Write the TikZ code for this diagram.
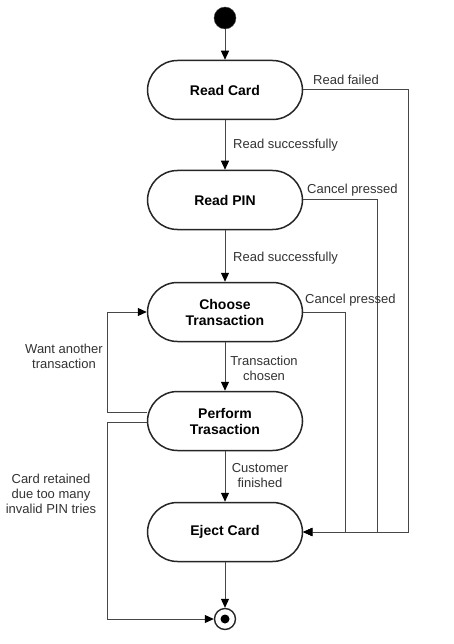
\documentclass[tikz,border=0pt]{standalone}
\usepackage{fontspec}
\setmainfont{Liberation Sans}
\usetikzlibrary{arrows.meta}
\begin{document}
\begin{tikzpicture}[x=1pt,y=-1pt,
  state/.style={draw=black!85, line width=1.5pt, rounded corners=30pt, minimum width=155pt, minimum height=59pt, inner sep=0pt, align=center, font=\fontsize{14}{16}\selectfont\bfseries, fill=white},
  conn/.style={draw=black!72, line width=1pt},
  arr/.style={conn, -{Triangle[length=9pt,width=8pt,color=black]}},
  lbl/.style={inner sep=0pt, text=black!80, font=\fontsize{13}{15}\selectfont, align=center},
]
\useasboundingbox (0,0) rectangle (454,644);
\fill[white] (0,0) rectangle (454,644);
% states
\node[circle, fill=black, draw=black!70, minimum size=22pt, inner sep=0pt] (init) at (225,18) {};
\node[state] (rc) at (225,90) {Read Card};
\node[state] (rp) at (225,200) {Read PIN};
\node[state] (ct) at (225,312) {Choose\\Transaction};
\node[state] (pt) at (225,421) {Perform\\Trasaction};
\node[state] (ej) at (225,532) {Eject Card};
\node[circle, draw=black!85, line width=1.4pt, fill=white, minimum size=21pt, inner sep=0pt] (fin) at (225,619) {};
\fill[black] (fin.center) circle (4.5pt);
% corner coordinates
\coordinate (c1) at (408,90);
\coordinate (c2) at (377,200);
\coordinate (c3) at (345,312);
\coordinate (wa) at (107,312);
\coordinate (cr) at (107,619);
% main flow
\draw[arr] (init) -- (rc);
\draw[arr] (rc) -- (rp);
\draw[arr] (rp) -- (ct);
\draw[arr] (ct) -- (pt);
\draw[arr] (pt) -- (ej);
\draw[arr] (ej) -- (fin);
% right side
\draw[arr] (rc.east) -- (c1) |- (ej.east);
\draw[arr] (rp.east) -- (c2) |- (ej.east);
\draw[arr] (ct.east) -- (c3) |- (ej.east);
% left side
\draw[arr] ([yshift=9pt]pt.west) -| (wa) -- (ct.west);
\draw[arr] ([yshift=-1pt]pt.west) -| (cr) -- (fin.west);
% labels
\node[lbl, anchor=west] (l1) at (313,80) {Read failed};
\node[lbl, anchor=west] (l2) at (233,145) {Read successfully};
\node[lbl, anchor=west] (l3) at (307,190) {Cancel pressed};
\node[lbl, anchor=west] (l4) at (233,258) {Read successfully};
\node[lbl, anchor=west] (l5) at (305,300) {Cancel pressed};
\node[lbl] (l6) at (264,368) {Transaction\\chosen};
\node[lbl] (l7) at (260,476) {Customer\\finished};
\node[lbl] (l8) at (64,356) {Want another\\transaction};
\node[lbl] (l9) at (51,494) {Card retained\\due too many\\invalid PIN tries};
\end{tikzpicture}
\end{document}
